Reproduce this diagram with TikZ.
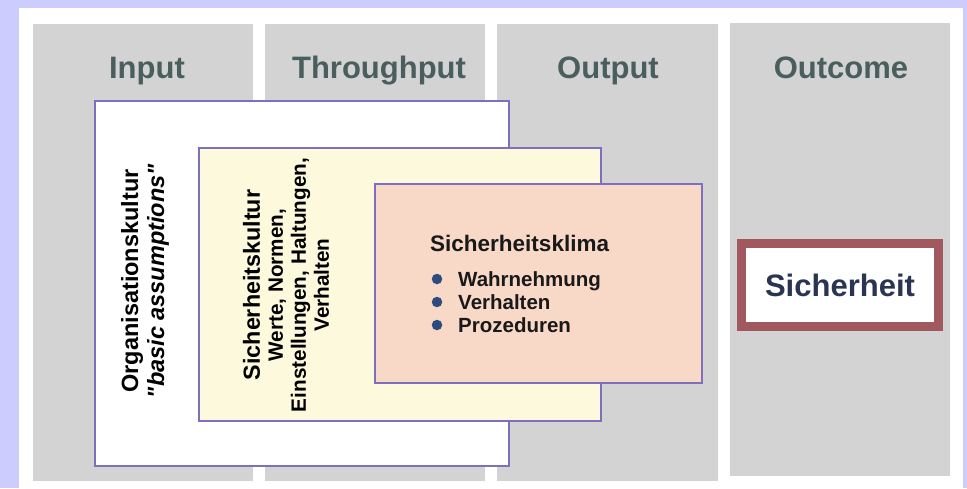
\documentclass[tikz,border=0pt]{standalone}
\usepackage{fontspec}
\setmainfont{Liberation Sans}[Ligatures=TeXOff]
\begin{document}
\begin{tikzpicture}[x=1pt,y=-1pt,
  colbox/.style={fill=colgray,draw=none},
  header/.style={font=\fontsize{31}{36}\selectfont\bfseries,text=headgray,anchor=base,inner sep=0pt},
  frame/.style={draw=framepurple,line width=2.6pt},
  bodytext/.style={font=\fontsize{20.5}{23}\selectfont\bfseries,text=black!90,inner sep=0pt},
  bulletdot/.style={circle,fill=bulletblue,inner sep=0pt,minimum size=10.5pt}
]
\definecolor{lavender}{HTML}{CCCCFF}
\definecolor{colgray}{HTML}{D3D3D3}
\definecolor{headgray}{HTML}{4A5E5E}
\definecolor{framepurple}{HTML}{7E70BF}
\definecolor{lightyellow}{HTML}{FDF9DD}
\definecolor{peach}{HTML}{F8D9C8}
\definecolor{bulletblue}{HTML}{2F4A7E}
\definecolor{sichred}{HTML}{A2585F}
\definecolor{sichtext}{HTML}{2B3552}

% background
\fill[lavender] (0,0) rectangle (967,488);
\useasboundingbox (0,0) rectangle (967,488);
\fill[white] (19,8) rectangle (963,488);

% columns
\fill[colgray] (33,24) rectangle (253,481);
\fill[colgray] (265,24) rectangle (485,481);
\fill[colgray] (497,24) rectangle (718,481);
\fill[colgray] (730,23) rectangle (950,476);

% headers
\node[header] (hin) at (147,78) {Input};
\node[header] (hth) at (379,78) {Throughput};
\node[header] (hout) at (608,78) {Output};
\node[header] (hoc) at (841,78) {Outcome};

% nested boxes
\draw[frame,fill=white] (95,101) rectangle (509,466);
\draw[frame,fill=lightyellow] (199,148) rectangle (601,421);
\draw[frame,fill=peach] (375,184) rectangle (702,383);

% Organisationskultur text
\node[rotate=90,align=center,inner sep=0pt,font=\fontsize{23.5}{26}\selectfont\bfseries] (org) at (145,281)
  {Organisationskultur\\\textit{"basic assumptions"}};

% Sicherheitskultur text
\node[rotate=90,align=center,inner sep=0pt,font=\fontsize{20.7}{23}\selectfont\bfseries] (sk) at (286,285)
  {{\fontsize{23.3}{23}\selectfont Sicherheitskultur}\\Werte, Normen,\\Einstellungen, Haltungen,\\Verhalten};

% Sicherheitsklima
\node[bodytext,font=\fontsize{22.5}{24}\selectfont\bfseries,anchor=base west] (klima) at (430,251) {Sicherheitsklima};
\node[bulletdot] (b1) at (437,279) {};
\node[bulletdot] (b2) at (437,302) {};
\node[bulletdot] (b3) at (437,325) {};
\node[bodytext,anchor=base west] (i1) at (458,286) {Wahrnehmung};
\node[bodytext,anchor=base west] (i2) at (458,309) {Verhalten};
\node[bodytext,anchor=base west] (i3) at (458,332) {Prozeduren};

% Sicherheit
\draw[draw=sichred,line width=9pt,fill=white] (741.5,243.5) rectangle (938.5,326.5);
\node[font=\fontsize{31}{36}\selectfont\bfseries,text=sichtext,inner sep=0pt] (sich) at (840,285) {Sicherheit};
\end{tikzpicture}
\end{document}
